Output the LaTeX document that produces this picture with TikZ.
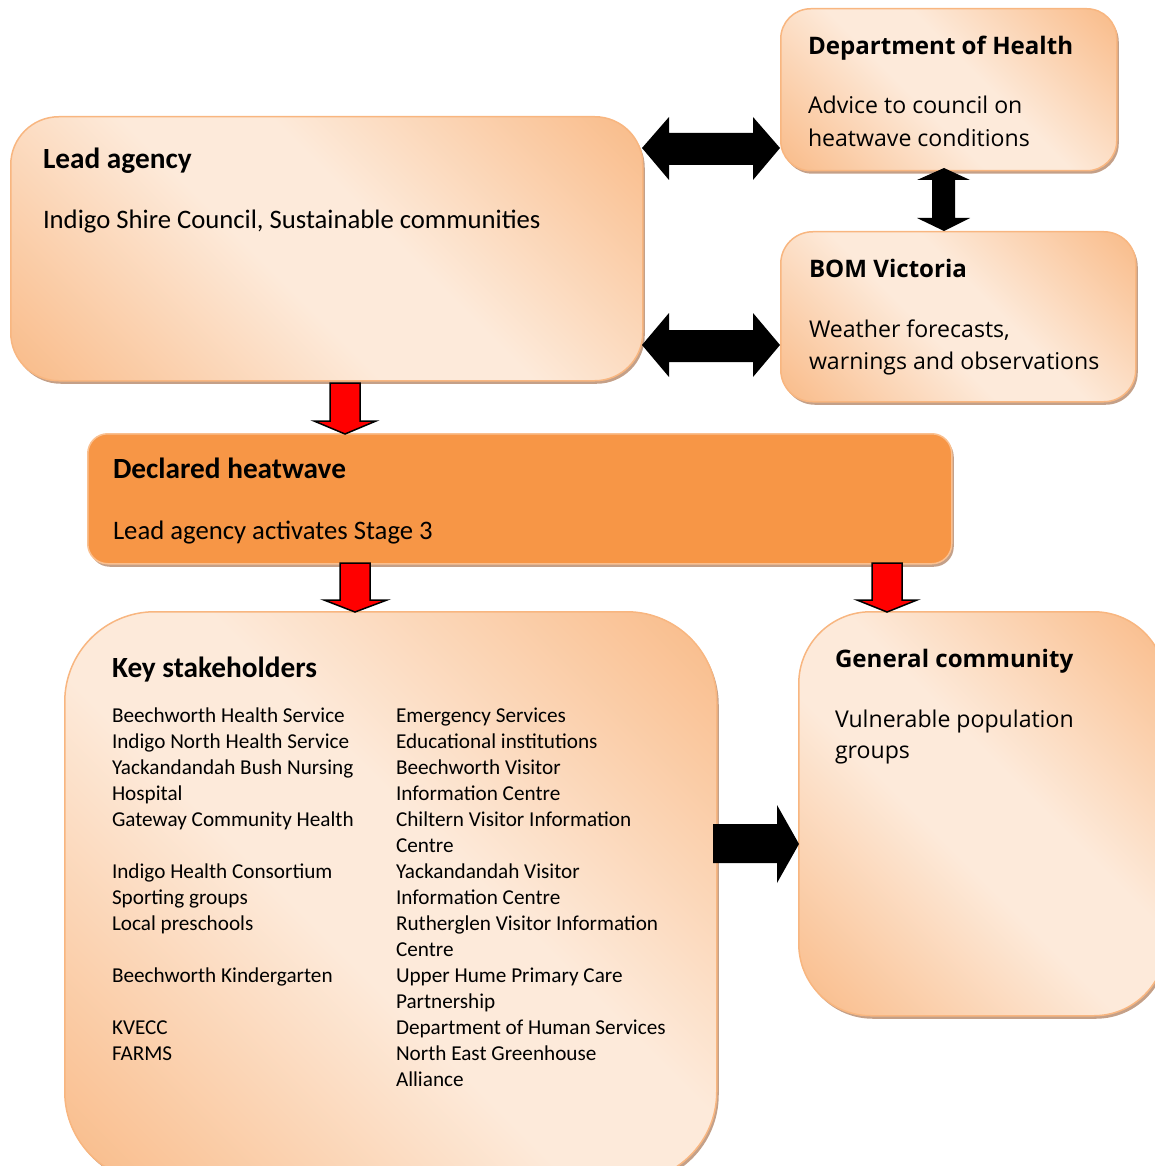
\documentclass[tikz,border=0pt]{standalone}
\usepackage{fontspec}
\setmainfont{Carlito}
\newfontfamily\osans{Open Sans}
\usetikzlibrary{shadows}
\definecolor{pkd}{RGB}{249,189,140}
\definecolor{pkl}{RGB}{253,234,218}
\definecolor{pkborder}{RGB}{248,182,128}
\definecolor{shadowc}{RGB}{196,160,136}
\definecolor{heat}{RGB}{247,150,70}
\definecolor{heatborder}{RGB}{250,192,144}
\pgfdeclarehorizontalshading{peach}{100bp}{color(0bp)=(pkd); color(16bp)=(pkd); color(44bp)=(pkl); color(56bp)=(pkl); color(84bp)=(pkd); color(100bp)=(pkd)}
\tikzset{
  box/.style={draw=pkborder, line width=1.5pt, shading=peach, shading angle=45,
    anchor=north west, inner sep=0pt,
    drop shadow={shadow xshift=2pt, shadow yshift=-3pt, fill=shadowc, opacity=1}},
  heatbox/.style={draw=heatborder, line width=1.5pt, fill=heat,
    anchor=north west, inner sep=0pt,
    drop shadow={shadow xshift=2pt, shadow yshift=-3pt, fill=shadowc, opacity=1}},
  txt/.style={anchor=base west, inner sep=0pt, outer sep=0pt},
  chead/.style={txt, font=\bfseries\fontsize{29.3}{35}\selectfont},
  cbody/.style={txt, font=\fontsize{26.7}{32}\selectfont},
  clist/.style={txt, font=\fontsize{21.2}{26}\selectfont},
  ohead/.style={txt, font=\osans\bfseries\fontsize{24.1}{30}\selectfont},
  obody/.style={txt, font=\osans\fontsize{23.1}{33}\selectfont},
  blackarrow/.style={fill=black},
  redarrow/.style={fill=red, draw=black, line width=1.5pt, line join=miter},
}
\begin{document}
\begin{tikzpicture}[x=1pt,y=-1pt]
\useasboundingbox (0,0) rectangle (1154,1166);

% boxes
\node[box, rounded corners=48pt, minimum width=632pt, minimum height=264pt] (lead) at (10,116) {};
\node[box, rounded corners=30pt, minimum width=336pt, minimum height=162pt] (doh) at (780,8) {};
\node[box, rounded corners=32pt, minimum width=355pt, minimum height=170pt] (bom) at (780,231) {};
\node[heatbox, rounded corners=20pt, minimum width=864pt, minimum height=130pt] (heat) at (87,433) {};
\node[box, rounded corners=90pt, minimum width=652pt, minimum height=570pt] (key) at (64,611) {};
\node[box, rounded corners=72pt, minimum width=367pt, minimum height=404pt] (gen) at (798,611) {};

% texts
\node[chead] (leadh) at (43,169) {Lead agency};
\node[cbody] (leadb) at (43,229) {Indigo Shire Council, Sustainable communities};

\node[ohead] (dohh) at (808,55) {Department of Health};
\node[obody] (dohb1) at (808,114) {Advice to council on};
\node[obody] (dohb2) at (808,147) {heatwave conditions};

\node[ohead] (bomh) at (809,277) {BOM Victoria};
\node[obody] (bomb1) at (809,337) {Weather forecasts,};
\node[obody] (bomb2) at (809,369) {warnings and observations};

\node[chead] (heath) at (113,478) {Declared heatwave};
\node[cbody] (heatb) at (113,539) {Lead agency activates Stage 3};

\node[chead] (keyh) at (112,677) {Key stakeholders};
\foreach \k/\t in {0/Beechworth Health Service, 1/Indigo North Health Service,
  2/Yackandandah Bush Nursing, 3/Hospital, 4/Gateway Community Health,
  6/Indigo Health Consortium, 7/Sporting groups, 8/Local preschools,
  10/Beechworth Kindergarten, 12/KVECC, 13/FARMS}
  \node[clist] (kl\k) at (112,{722+26*\k}) {\t};
\foreach \k/\t in {0/Emergency Services, 1/Educational institutions,
  2/Beechworth Visitor, 3/Information Centre, 4/Chiltern Visitor Information,
  5/Centre, 6/Yackandandah Visitor, 7/Information Centre,
  8/Rutherglen Visitor Information, 9/Centre, 10/Upper Hume Primary Care,
  11/Partnership, 12/Department of Human Services, 13/North East Greenhouse,
  14/Alliance}
  \node[clist] (kr\k) at (396,{722+26*\k}) {\t};

\node[ohead] (genh) at (835,667) {General community};
\node[obody] (genb1) at (835,727) {Vulnerable population};
\node[obody] (genb2) at (835,758) {groups};

% black double arrows
\fill[blackarrow] (642,148) -- (669,117) -- (669,133) -- (753,133) -- (753,117) -- (780,148)
  -- (753,180) -- (753,165) -- (669,165) -- (669,180) -- cycle;
\fill[blackarrow] (642,345) -- (669,313) -- (669,330) -- (753,330) -- (753,313) -- (780,345)
  -- (753,377) -- (753,362) -- (669,362) -- (669,377) -- cycle;
\fill[blackarrow] (944,168) -- (970,180) -- (955,180) -- (955,218) -- (970,218) -- (944,231)
  -- (917,218) -- (932,218) -- (932,180) -- (917,180) -- cycle;
\fill[blackarrow] (713,824) -- (777,824) -- (777,805) -- (799,844) -- (777,883) -- (777,863)
  -- (713,863) -- cycle;

% red arrows
\draw[redarrow] (330,383) -- (360,383) -- (360,421) -- (376,421) -- (345,434) -- (314,421) -- (330,421) -- cycle;
\draw[redarrow] (340,563) -- (370,563) -- (370,600) -- (387,600) -- (355,612) -- (324,600) -- (340,600) -- cycle;
\draw[redarrow] (872,563) -- (902,563) -- (902,600) -- (917,600) -- (887,612) -- (857,600) -- (872,600) -- cycle;
\end{tikzpicture}
\end{document}
